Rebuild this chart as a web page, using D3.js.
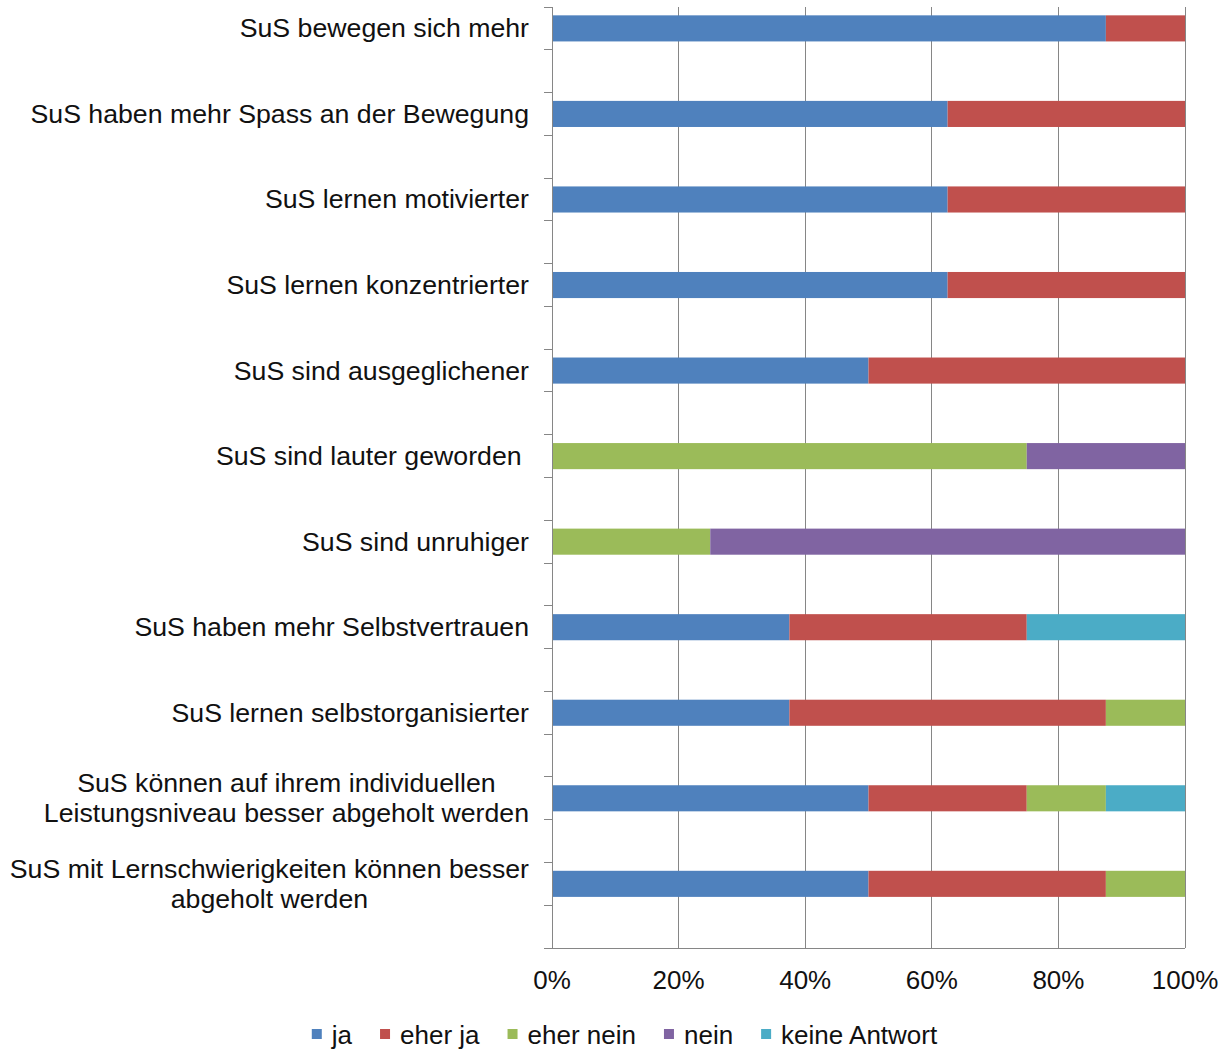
<!DOCTYPE html>
<html>
<head>
<meta charset="utf-8">
<script src="https://cdn.jsdelivr.net/npm/d3@7"></script>
<style>
  html, body { margin: 0; padding: 0; background: #fff; }
  svg { display: block; font-family: "Liberation Sans", Arial, sans-serif; }
  text { white-space: pre; }
</style>
</head>
<body>
<svg id="chart" width="1230" height="1049"></svg>
<script>
// ---- data ----
const categories = [
  ["SuS bewegen sich mehr"],
  ["SuS haben mehr Spass an der Bewegung"],
  ["SuS lernen motivierter"],
  ["SuS lernen konzentrierter"],
  ["SuS sind ausgeglichener"],
  ["SuS sind lauter geworden "],
  ["SuS sind unruhiger"],
  ["SuS haben mehr Selbstvertrauen"],
  ["SuS lernen selbstorganisierter"],
  ["SuS können auf ihrem individuellen", "Leistungsniveau besser abgeholt werden"],
  ["SuS mit Lernschwierigkeiten können besser", "abgeholt werden"]
];
const seriesNames = ["ja", "eher ja", "eher nein", "nein", "keine Antwort"];
const ja          = [87.5, 62.5, 62.5, 62.5, 50, 0,  0,  37.5, 37.5, 50,   50];
const eherJa      = [12.5, 37.5, 37.5, 37.5, 50, 0,  0,  37.5, 50,   25,   37.5];
const eherNein    = [0,    0,    0,    0,    0,  75, 25, 0,    12.5, 12.5, 12.5];
const nein        = [0,    0,    0,    0,    0,  25, 75, 0,    0,    0,    0];
const keineAntwort= [0,    0,    0,    0,    0,  0,  0,  25,   0,    12.5, 0];
const xTickValues = [0, 0.2, 0.4, 0.6, 0.8, 1];
const colors = ["#4F81BD", "#C0504D", "#9BBB59", "#8064A2", "#4BACC6"];

(function () {
// ---- layout ----
const svg = d3.select("#chart");
const pLeft = 552, pRight = 1185, pTop = 7, pBottom = 948;
const x = d3.scaleLinear().domain([0, 1]).range([pLeft, pRight]);
// each category occupies one slot followed by an empty slot (as in the source sheet)
const nSlots = categories.length * 2;
const y = d3.scaleLinear().domain([0, nSlots]).range([pTop, pBottom]);
const slot = (pBottom - pTop) / nSlots;
const barH = slot * 0.61;

const rows = categories.map((c, i) => {
  const vals = [ja[i], eherJa[i], eherNein[i], nein[i], keineAntwort[i]];
  const total = d3.sum(vals);
  return { i, vals: vals.map(v => v / total) };
});

// gridlines
const gridColor = "#868686";
svg.append("g").selectAll("line")
  .data(xTickValues.filter(d => d > 0))
  .join("line")
  .attr("x1", d => x(d)).attr("x2", d => x(d))
  .attr("y1", pTop).attr("y2", pBottom)
  .attr("stroke", gridColor).attr("stroke-width", 1).attr("shape-rendering", "crispEdges");

// bars
const barsG = svg.append("g");
rows.forEach(r => {
  let acc = 0;
  r.vals.forEach((v, s) => {
    if (v > 0) {
      barsG.append("rect")
        .attr("x", x(acc))
        .attr("width", x(acc + v) - x(acc))
        .attr("y", y(2 * r.i + 0.5) - barH / 2)
        .attr("height", barH)
        .attr("fill", colors[s]);
    }
    acc += v;
  });
});

// y axis line + ticks
svg.append("line")
  .attr("x1", pLeft).attr("x2", pLeft).attr("y1", pTop).attr("y2", pBottom)
  .attr("stroke", gridColor).attr("shape-rendering", "crispEdges");
svg.append("g").selectAll("line")
  .data(d3.range(nSlots + 1))
  .join("line")
  .attr("x1", pLeft - 8).attr("x2", pLeft)
  .attr("y1", d => y(d)).attr("y2", d => y(d))
  .attr("stroke", gridColor).attr("shape-rendering", "crispEdges");
// x axis line
svg.append("line")
  .attr("x1", pLeft).attr("x2", pRight).attr("y1", pBottom).attr("y2", pBottom)
  .attr("stroke", gridColor).attr("shape-rendering", "crispEdges");

// x tick labels
svg.append("g").selectAll("text")
  .data(xTickValues)
  .join("text")
  .attr("x", d => x(d))
  .attr("y", 980)
  .attr("text-anchor", "middle")
  .attr("dominant-baseline", "central")
  .attr("font-size", 26)
  .attr("fill", "#111")
  .text(d => d3.format(".0%")(d));

// category labels
const labelRight = 529;
const lineH = 30;
const labG = svg.append("g");
categories.forEach((lines, i) => {
  const cy = y(2 * i + 0.5);
  const t = labG.append("text")
    .attr("font-size", 26.7)
    .attr("fill", "#111")
    .attr("text-anchor", "middle");
  const tspans = lines.map((ln, k) =>
    t.append("tspan")
      .attr("y", cy + (k - (lines.length - 1) / 2) * lineH)
      .attr("dominant-baseline", "central")
      .text(ln));
  const maxW = d3.max(tspans, ts => ts.node().getComputedTextLength());
  tspans.forEach(ts => ts.attr("x", labelRight - maxW / 2));
});

// legend
const legG = svg.append("g");
const legY = 1035, sq = 10, sqGap = 10, itemGap = 28;
let lx = 0;
seriesNames.forEach((name, s) => {
  const g = legG.append("g");
  g.append("rect").attr("x", lx).attr("y", legY - sq / 2 - 1).attr("width", sq).attr("height", sq).attr("fill", colors[s]);
  const t = g.append("text").attr("x", lx + sq + sqGap).attr("y", legY)
    .attr("dominant-baseline", "central").attr("font-size", 26).attr("fill", "#111").text(name);
  lx += sq + sqGap + t.node().getComputedTextLength() + itemGap;
});
const legW = lx - itemGap;
legG.attr("transform", `translate(${624.5 - legW / 2},0)`);
})();
</script>
</body>
</html>
